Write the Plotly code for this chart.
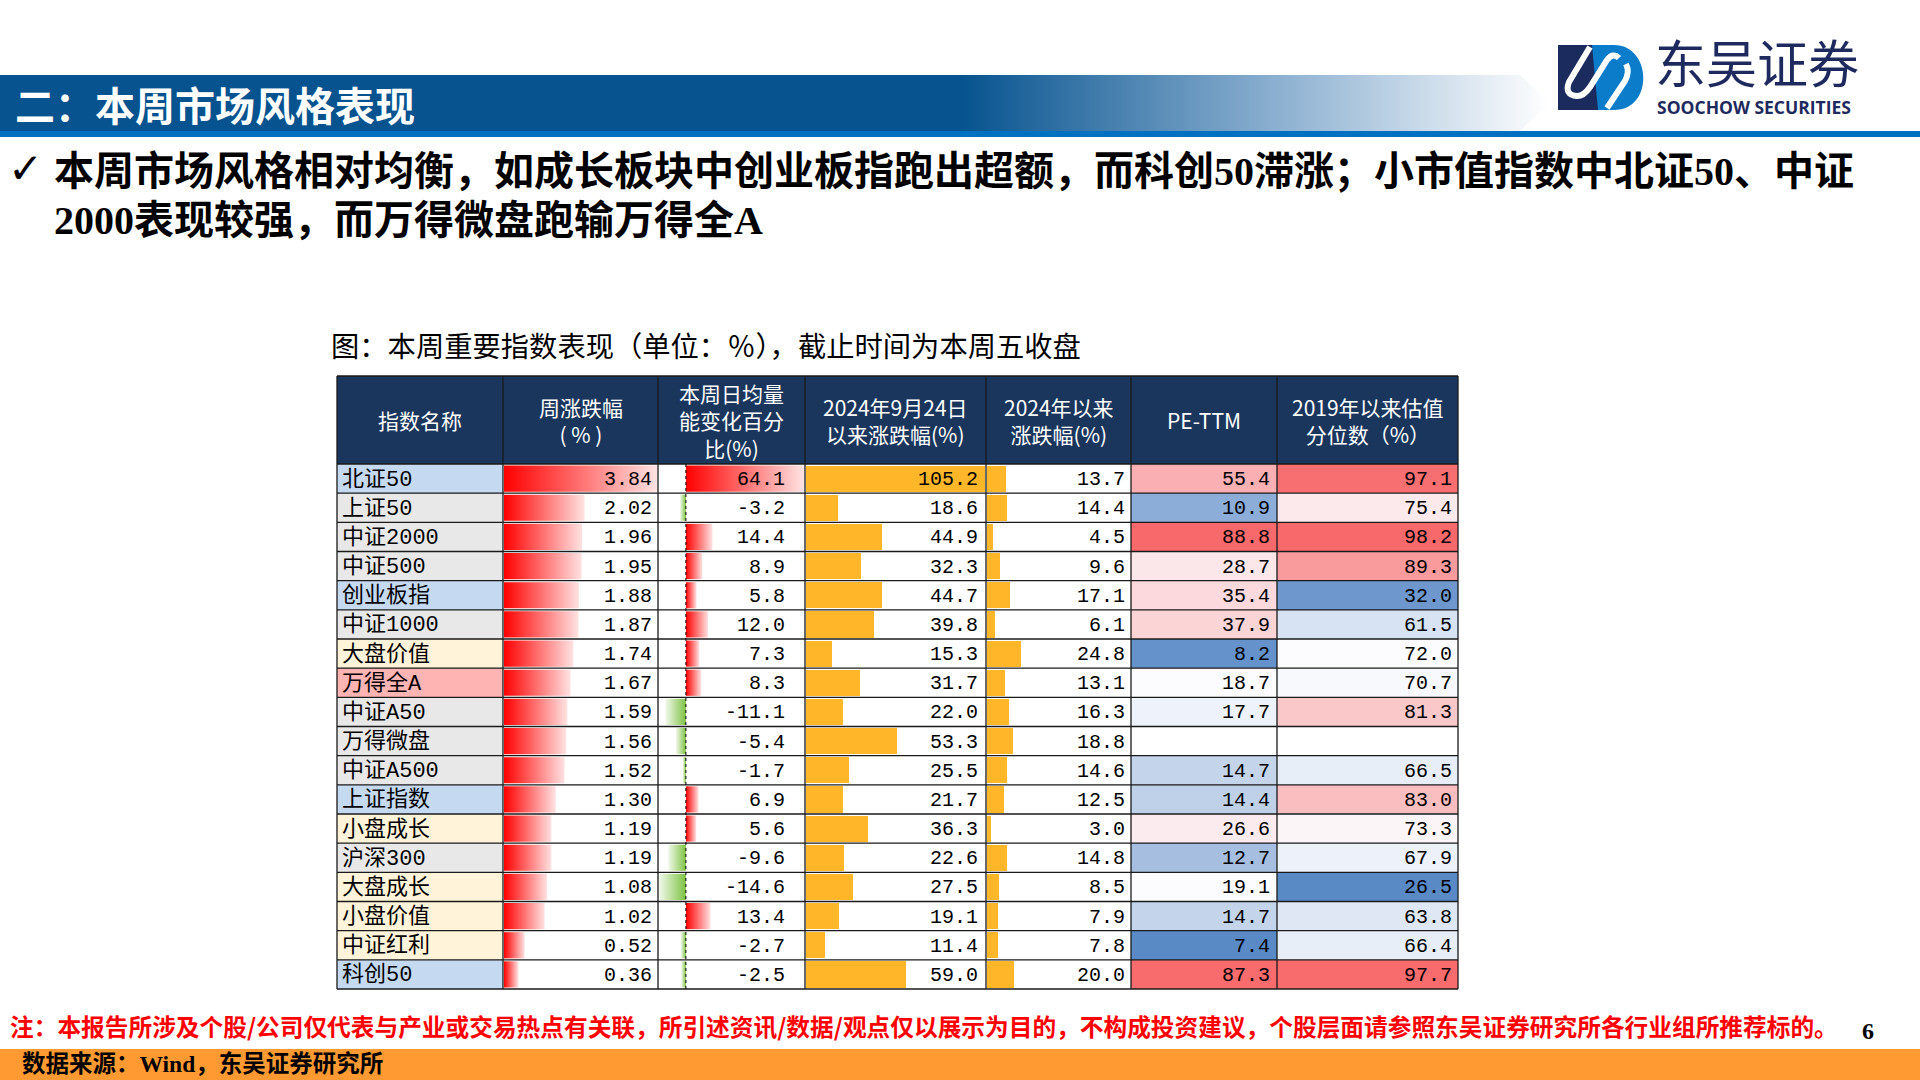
import numpy as np
import plotly.graph_objects as go

# ===================== data =====================
index_names = ["北证50", "上证50", "中证2000", "中证500", "创业板指", "中证1000", "大盘价值", "万得全A",
               "中证A50", "万得微盘", "中证A500", "上证指数", "小盘成长", "沪深300", "大盘成长", "小盘价值",
               "中证红利", "科创50"]
index_group = ["board", "broad", "broad", "broad", "board", "broad", "style", "market",
               "broad", "broad", "broad", "board", "style", "broad", "style", "style",
               "style", "board"]
weekly_chg = [3.84, 2.02, 1.96, 1.95, 1.88, 1.87, 1.74, 1.67, 1.59, 1.56, 1.52, 1.30, 1.19, 1.19, 1.08, 1.02, 0.52, 0.36]
volume_chg = [64.1, -3.2, 14.4, 8.9, 5.8, 12.0, 7.3, 8.3, -11.1, -5.4, -1.7, 6.9, 5.6, -9.6, -14.6, 13.4, -2.7, -2.5]
chg_since_0924 = [105.2, 18.6, 44.9, 32.3, 44.7, 39.8, 15.3, 31.7, 22.0, 53.3, 25.5, 21.7, 36.3, 22.6, 27.5, 19.1, 11.4, 59.0]
chg_ytd = [13.7, 14.4, 4.5, 9.6, 17.1, 6.1, 24.8, 13.1, 16.3, 18.8, 14.6, 12.5, 3.0, 14.8, 8.5, 7.9, 7.8, 20.0]
pe_ttm = [55.4, 10.9, 88.8, 28.7, 35.4, 37.9, 8.2, 18.7, 17.7, None, 14.7, 14.4, 26.6, 12.7, 19.1, 14.7, 7.4, 87.3]
pe_pctile = [97.1, 75.4, 98.2, 89.3, 32.0, 61.5, 72.0, 70.7, 81.3, None, 66.5, 83.0, 73.3, 67.9, 26.5, 63.8, 66.4, 97.7]

header_labels = ["指数名称", "周涨跌幅<br>( % )", "本周日均量<br>能变化百分<br>比(%)", "2024年9月24日<br>以来涨跌幅(%)",
                 "2024年以来<br>涨跌幅(%)", "PE-TTM", "2019年以来估值<br>分位数（%）"]

section_title = "二：本周市场风格表现"
bullet_lines = ["本周市场风格相对均衡，如成长板块中创业板指跑出超额，而科创50滞涨；小市值指数中北证50、中证",
                "2000表现较强，而万得微盘跑输万得全A"]
caption = "图：本周重要指数表现（单位：％），截止时间为本周五收盘"
note_text = "注：本报告所涉及个股/公司仅代表与产业或交易热点有关联，所引述资讯/数据/观点仅以展示为目的，不构成投资建议，个股层面请参照东吴证券研究所各行业组所推荐标的。"
source_text = "数据来源：Wind，东吴证券研究所"
page_no = "6"

# ===================== styles / layout =====================
W, H = 1920, 1080
COL_EDGES = [337, 503, 658, 805, 986, 1131, 1277, 1458]
HEAD_TOP, HEAD_BOT, TABLE_BOT = 376, 464, 989
N = len(index_names)
ROW_H = (TABLE_BOT - HEAD_BOT) / N
BAR_H = ROW_H - 3
HEADER_BG = "#1B365D"
GROUP_COLORS = {"board": "#C5D9F1", "broad": "#E8E8E8", "style": "#FFF4D9", "market": "#FFB4B4"}
ORANGE = "#FFB628"
RED_GRAD = [[0, "#FF0000"], [1, "#FFE2E2"]]
GREEN_GRAD = [[0, "#F2F9EC"], [1, "#7DC242"]]
BLUE_RGB, WHITE_RGB, RED_RGB = (90, 138, 198), (252, 252, 255), (248, 105, 107)
CJK = "Noto Sans CJK SC"
NUM_FONT = "Liberation Mono, Noto Sans CJK SC"
BAND = "#06538F"
NAVY = "#1B2B5E"
LOGO_BLUE = "#0A7CC9"

fig = go.Figure()
row_y = [HEAD_BOT + (i + 0.5) * ROW_H for i in range(N)]


def lerp(c1, c2, t):
    t = max(0.0, min(1.0, t))
    return "rgb(%d,%d,%d)" % tuple(round(a + (b - a) * t) for a, b in zip(c1, c2))


def three_color(vals):
    v = np.array([x for x in vals if x is not None], dtype=float)
    lo, mid, hi = v.min(), np.percentile(v, 50), v.max()
    out = []
    for x in vals:
        if x is None:
            out.append("white")
        elif x <= mid:
            out.append(lerp(BLUE_RGB, WHITE_RGB, (x - lo) / (mid - lo)))
        else:
            out.append(lerp(WHITE_RGB, RED_RGB, (x - mid) / (hi - mid)))
    return out


def cell_fill(col, colors):
    x0, x1 = COL_EDGES[col], COL_EDGES[col + 1]
    fig.add_trace(go.Bar(orientation="h", y=row_y, x=[x1 - x0] * N, base=[x0] * N, width=ROW_H,
                         marker=dict(color=colors, line=dict(width=0)), hoverinfo="skip", showlegend=False))


def grad_bar(x0, x1, yc, scale):
    yt, yb = yc - BAR_H / 2, yc + BAR_H / 2
    fig.add_trace(go.Scatter(x=[x0, x1, x1, x0, x0], y=[yt, yt, yb, yb, yt], mode="lines", fill="toself",
                             line=dict(width=0, color="rgba(0,0,0,0)"),
                             fillgradient=dict(type="horizontal", colorscale=scale),
                             hoverinfo="skip", showlegend=False))


def txt(x, y, s, size, color="black", family=CJK, anchor="left", align="left"):
    fig.add_annotation(x=x, y=y, xref="x", yref="y", text=s, showarrow=False, xanchor=anchor,
                       yanchor="middle", align=align, font=dict(size=size, color=color, family=family))


# ---- column 1 & 6 & 7 cell fills ----
cell_fill(0, [GROUP_COLORS[g] for g in index_group])
cell_fill(5, three_color(pe_ttm))
cell_fill(6, three_color(pe_pctile))

# ---- column 2 gradient bars ----
c0, c1 = COL_EDGES[1], COL_EDGES[2]
sc2 = (c1 - c0 - 2) / max(weekly_chg)
for v, yc in zip(weekly_chg, row_y):
    grad_bar(c0 + 1, c0 + 1 + v * sc2, yc, RED_GRAD)

# ---- column 3 gradient bars (with axis) ----
c0, c1 = COL_EDGES[2], COL_EDGES[3]
vmin, vmax = min(volume_chg), max(volume_chg)
sc3 = (c1 - c0 - 2) / (vmax - vmin)
axis3 = c0 + 1 + (-vmin) * sc3
for v, yc in zip(volume_chg, row_y):
    if v >= 0:
        grad_bar(axis3, axis3 + v * sc3, yc, RED_GRAD)
    else:
        grad_bar(axis3 + v * sc3, axis3, yc, GREEN_GRAD)

# ---- columns 4 & 5 solid bars (shared scale) ----
vmax45 = max(chg_since_0924)
for col, vals in ((3, chg_since_0924), (4, chg_ytd)):
    c0, c1 = COL_EDGES[col], COL_EDGES[col + 1]
    sc = (c1 - c0 - 2) / vmax45
    fig.add_trace(go.Bar(orientation="h", y=row_y, x=[v * sc for v in vals], base=[c0 + 1] * N, width=BAR_H,
                         marker=dict(color=ORANGE, line=dict(width=0)), hoverinfo="skip", showlegend=False))

# ---- header ----
shapes = []
shapes.append(dict(type="rect", xref="x", yref="y", x0=COL_EDGES[0], x1=COL_EDGES[-1], y0=HEAD_TOP, y1=HEAD_BOT,
                   fillcolor=HEADER_BG, line=dict(width=0), layer="below"))
for j, lab in enumerate(header_labels):
    txt((COL_EDGES[j] + COL_EDGES[j + 1]) / 2, (HEAD_TOP + HEAD_BOT) / 2, lab, 21, "white", CJK, "center", "center")

# ---- grid lines ----
for i in range(N + 1):
    yy = HEAD_BOT + i * ROW_H
    shapes.append(dict(type="line", xref="x", yref="y", x0=COL_EDGES[0], x1=COL_EDGES[-1], y0=yy, y1=yy,
                       line=dict(color="#1a1a1a", width=1.3)))
for xx in COL_EDGES:
    shapes.append(dict(type="line", xref="x", yref="y", x0=xx, x1=xx, y0=HEAD_TOP, y1=TABLE_BOT,
                       line=dict(color="#1a1a1a", width=1.3)))
shapes.append(dict(type="line", xref="x", yref="y", x0=COL_EDGES[0], x1=COL_EDGES[-1], y0=HEAD_TOP, y1=HEAD_TOP,
                   line=dict(color="#1a1a1a", width=1.3)))
shapes.append(dict(type="line", xref="x", yref="y", x0=axis3, x1=axis3, y0=HEAD_BOT, y1=TABLE_BOT,
                   line=dict(color="black", width=1, dash="dot")))

# ---- cell texts ----
for i in range(N):
    yc = row_y[i] + 1
    txt(COL_EDGES[0] + 3, yc, index_names[i], 22, "black", NUM_FONT, "left")
    txt(COL_EDGES[2] - 4, yc, f"{weekly_chg[i]:.2f}", 20, "black", NUM_FONT, "right")
    txt(COL_EDGES[3] - 18, yc, f"{volume_chg[i]:.1f}", 20, "black", NUM_FONT, "right")
    txt(COL_EDGES[4] - 6, yc, f"{chg_since_0924[i]:.1f}", 20, "black", NUM_FONT, "right")
    txt(COL_EDGES[5] - 4, yc, f"{chg_ytd[i]:.1f}", 20, "black", NUM_FONT, "right")
    if pe_ttm[i] is not None:
        txt(COL_EDGES[6] - 5, yc, f"{pe_ttm[i]:.1f}", 20, "black", NUM_FONT, "right")
    if pe_pctile[i] is not None:
        txt(COL_EDGES[7] - 4, yc, f"{pe_pctile[i]:.1f}", 20, "black", NUM_FONT, "right")

# ---- page decoration: title band ----
shapes.append(dict(type="rect", xref="x", yref="y", x0=0, x1=962, y0=75, y1=131, fillcolor=BAND,
                   line=dict(width=0), layer="below"))
fig.add_trace(go.Scatter(x=[960, 1520, 1550, 1520, 960, 960], y=[75, 75, 103, 131, 131, 75], mode="lines",
                         fill="toself", line=dict(width=0, color="rgba(0,0,0,0)"),
                         fillgradient=dict(type="horizontal", colorscale=[[0, BAND], [0.55, "#8FB2D2"], [1, "#FFFFFF"]]),
                         hoverinfo="skip", showlegend=False))
shapes.append(dict(type="rect", xref="x", yref="y", x0=0, x1=W, y0=131, y1=137, fillcolor="#0070C0",
                   line=dict(width=0)))
txt(13, 104, "<b>" + section_title + "</b>", 40, "white", CJK, "left")

# ---- logo ----
shapes.append(dict(type="rect", xref="x", yref="y", x0=1558, x1=1600, y0=45, y1=110, fillcolor=NAVY,
                   line=dict(width=0)))
shapes.append(dict(type="path", xref="x", yref="y",
                   path="M 1592,45 L 1614,45 C 1652,45 1654,110 1614,110 L 1598,110 Z",
                   fillcolor=LOGO_BLUE, line=dict(width=0)))
shapes.append(dict(type="path", xref="x", yref="y",
                   path="M 1590,47 L 1569,82 Q 1564,95 1577,96 Q 1584,96 1590,87 L 1607,60 Q 1613,52 1619,58",
                   line=dict(color="white", width=6)))
shapes.append(dict(type="path", xref="x", yref="y",
                   path="M 1626,64 Q 1630,72 1625,81 L 1607,108",
                   line=dict(color="white", width=6)))
txt(1653, 61, "东吴证券", 51, "#1E2A5E", CJK, "left")
txt(1655, 107, "<b>SOOCHOW SECURITIES</b>", 17.5, "#1E2A5E", "Open Sans", "left")

# ---- bullet text ----
txt(6, 168, "✓", 42, "black", "DejaVu Sans", "left")
bullet_font = "Liberation Serif, Noto Sans CJK SC"
txt(52, 171, "<b>" + bullet_lines[0] + "</b>", 40, "black", bullet_font, "left")
txt(52, 220, "<b>" + bullet_lines[1] + "</b>", 40, "black", bullet_font, "left")

# ---- caption ----
txt(329, 344, caption, 28.3, "black", CJK, "left")

# ---- footer ----
txt(8, 1026, "<b>" + note_text + "</b>", 23.7, "#FF0000", CJK, "left")
txt(1860, 1031, "<b>" + page_no + "</b>", 24, "black", "Liberation Serif", "left")
shapes.append(dict(type="rect", xref="x", yref="y", x0=0, x1=W, y0=1049, y1=H, fillcolor="#FF9A33",
                   line=dict(width=0), layer="below"))
txt(20, 1064, "<b>" + source_text + "</b>", 23.5, "black", "Liberation Serif, Noto Sans CJK SC", "left")

fig.update_layout(
    width=W, height=H, margin=dict(l=0, r=0, t=0, b=0), autosize=False,
    paper_bgcolor="white", plot_bgcolor="white", barmode="overlay", bargap=0,
    shapes=shapes, showlegend=False,
    xaxis=dict(range=[0, W], visible=False, fixedrange=True),
    yaxis=dict(range=[H, 0], visible=False, fixedrange=True),
)

fig.write_html("out.html", config={"displayModeBar": False},
               post_script="document.body.style.margin='0';document.body.style.overflow='hidden';")
